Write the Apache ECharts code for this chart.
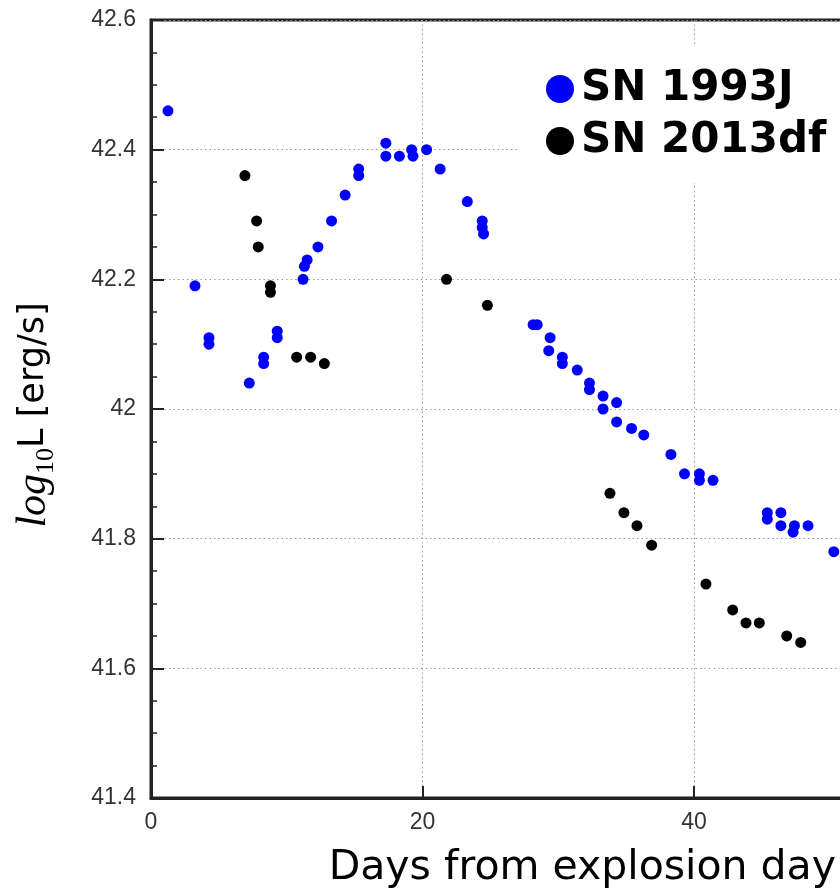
<!DOCTYPE html>
<html>
<head>
<meta charset="utf-8">
<script src="https://cdn.jsdelivr.net/npm/echarts@6/dist/echarts.min.js"></script>
<style>
html,body{margin:0;padding:0;background:#fff;}
#chart{width:840px;height:889px;}
</style>
</head>
<body>
<div id="chart"></div>
<script>
// SN 1993J
const sn1993jDays = [1.25, 3.24, 4.27, 4.27, 7.24, 8.3, 8.3, 9.3, 9.3, 11.2, 11.3, 11.5, 12.3, 13.3, 14.3, 15.3, 15.3, 17.3, 17.3, 18.3, 19.2, 19.3, 20.3, 21.3, 23.3, 24.4, 24.4, 24.5, 28.15, 28.45, 29.4, 29.3, 30.3, 30.3, 31.4, 32.3, 32.3, 33.3, 33.3, 34.3, 34.3, 35.4, 36.3, 38.3, 39.3, 40.4, 40.4, 41.4, 45.4, 45.4, 46.4, 46.4, 47.4, 47.3, 48.4, 50.3];
const sn1993jLogL = [42.46, 42.19, 42.11, 42.10, 42.04, 42.08, 42.07, 42.12, 42.11, 42.20, 42.22, 42.23, 42.25, 42.29, 42.33, 42.37, 42.36, 42.41, 42.39, 42.39, 42.40, 42.39, 42.40, 42.37, 42.32, 42.29, 42.28, 42.27, 42.13, 42.13, 42.11, 42.09, 42.08, 42.07, 42.06, 42.04, 42.03, 42.02, 42.00, 42.01, 41.98, 41.97, 41.96, 41.93, 41.90, 41.90, 41.89, 41.89, 41.84, 41.83, 41.84, 41.82, 41.82, 41.81, 41.82, 41.78];
// SN 2013df
const sn2013dfDays = [6.92, 7.78, 7.9, 8.8, 8.8, 10.73, 11.76, 12.77, 21.77, 24.78, 33.81, 34.84, 35.8, 36.88, 40.88, 42.85, 43.83, 44.81, 46.83, 47.86];
const sn2013dfLogL = [42.36, 42.29, 42.25, 42.19, 42.18, 42.08, 42.08, 42.07, 42.20, 42.16, 41.87, 41.84, 41.82, 41.79, 41.73, 41.69, 41.67, 41.67, 41.65, 41.64];

const seriesNames = ['SN 1993J', 'SN 2013df'];
const xTitle = 'Days from explosion day';

const zip = (xs, ys) => xs.map((x, i) => [x, ys[i]]);

const chart = echarts.init(document.getElementById('chart'), null, {renderer: 'canvas'});
const axisColor = '#222';
const labelStyle = {color: '#333', fontFamily: 'Liberation Sans', fontSize: 23};
const splitStyle = {show: true, lineStyle: {color: '#9a9a9a', type: [1.5, 3], width: 1}};

chart.setOption({
  animation: false,
  backgroundColor: '#fff',
  grid: {left: 151, top: 20, width: 814.5, height: 778, outerBoundsMode: 'none', containLabel: false, show: true, borderColor: axisColor, borderWidth: 3, backgroundColor: 'transparent'},
  xAxis: {
    type: 'value', min: 0, max: 60, interval: 20,
    axisLine: {show: true, lineStyle: {color: axisColor, width: 3}},
    axisTick: {show: true, inside: true, length: 12, lineStyle: {color: axisColor, width: 2}},
    axisLabel: Object.assign({margin: 13}, labelStyle),
    splitLine: splitStyle
  },
  yAxis: {
    type: 'value', min: 41.4, max: 42.6, interval: 0.2,
    axisLine: {show: true, lineStyle: {color: axisColor, width: 3}},
    axisTick: {show: true, inside: true, length: 13, lineStyle: {color: axisColor, width: 2}},
    minorTick: {show: true, splitNumber: 4, length: 6, lineStyle: {color: axisColor, width: 1.5}},
    axisLabel: Object.assign({margin: 15}, labelStyle),
    splitLine: splitStyle
  },
  legend: {
    orient: 'vertical', left: 517, top: 47,
    padding: [21, 40, 21, 29],
    backgroundColor: '#fff',
    itemWidth: 32, itemHeight: 28, itemGap: 10,
    icon: 'circle',
    textStyle: {fontFamily: 'DejaVu Sans', fontWeight: 'bold', fontSize: 42, lineHeight: 42, color: '#000'},
    data: seriesNames
  },
  graphic: [
    {
      type: 'text', x: 836, y: 868,
      style: {text: xTitle, align: 'right', verticalAlign: 'middle', fontFamily: 'DejaVu Sans', fontSize: 41, fill: '#000'}
    },
    {
      type: 'text', x: 34, y: 415, rotation: Math.PI / 2,
      style: {
        text: '{a|log}{b|10}{c|L [erg/s]}',
        align: 'center', verticalAlign: 'middle', fill: '#000',
        rich: {
          a: {fontFamily: 'Liberation Serif', fontStyle: 'italic', fontSize: 42, lineHeight: 50, fill: '#000'},
          b: {fontFamily: 'Liberation Serif', fontSize: 26, lineHeight: 26, verticalAlign: 'bottom', fill: '#000'},
          c: {fontFamily: 'DejaVu Sans', fontSize: 35, lineHeight: 50, fill: '#000'}
        }
      }
    }
  ],
  series: [
    {name: seriesNames[0], type: 'scatter', symbolSize: 11, itemStyle: {color: '#0000ff', opacity: 1}, data: zip(sn1993jDays, sn1993jLogL)},
    {name: seriesNames[1], type: 'scatter', symbolSize: 11, itemStyle: {color: '#000000', opacity: 1}, data: zip(sn2013dfDays, sn2013dfLogL)}
  ]
});
</script>
</body>
</html>
